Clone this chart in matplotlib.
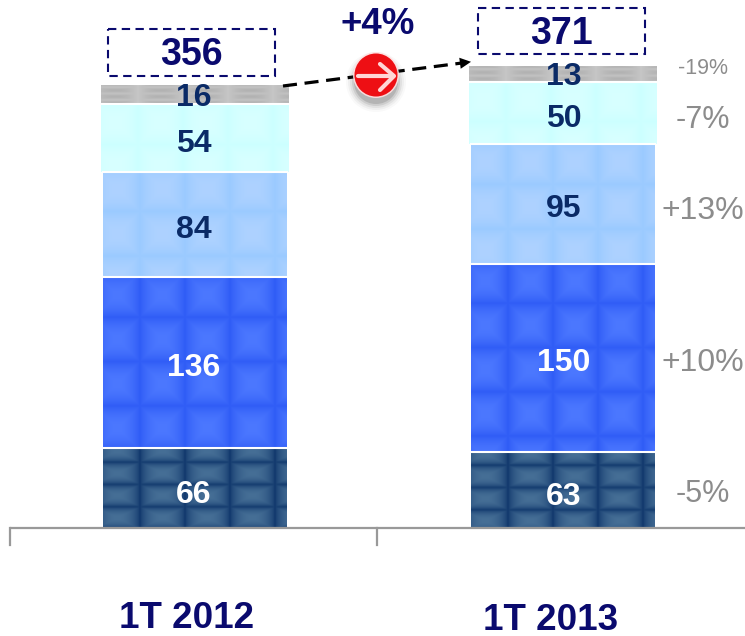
import numpy as np
import matplotlib
matplotlib.use("Agg")
import matplotlib.pyplot as plt
from matplotlib.patches import Circle, Rectangle
from matplotlib.transforms import Affine2D

# ---- data ----
periods = ["1T 2012", "1T 2013"]
seg_a = [66, 63]
seg_b = [136, 150]
seg_c = [84, 95]
seg_d = [54, 50]
seg_e = [16, 13]
totals = [356, 371]
growth = "+4%"
changes = ["-5%", "+10%", "+13%", "-7%", "-19%"]

# ---- style ----
plt.rcParams["font.family"] = ["Liberation Sans", "DejaVu Sans"]
W, H = 745, 636
AXIS_Y = 528
BASE = 531
SCALE = 1.255
NAVY = "#0a0a6e"
GREY = "#8c8c8c"
styles = [
    dict(edge="#0b3268", mid="#466f96", tw=45, th=22, oy=8, p=0.55, ws=184, txt="white", off=3),
    dict(edge="#2f5cf6", mid="#4c78ff", tw=45, th=44, oy=4, p=0.8, ws=184, txt="white", off=2),
    dict(edge="#9acaff", mid="#aed2ff", tw=45, th=44, oy=4, p=0.8, ws=184, txt="#0a2a66", off=2),
    dict(edge="#ccffff", mid="#d8ffff", tw=45, th=44, oy=4, p=0.8, ws=188, txt="#0a2a66", off=3),
    dict(edge="#c6c6c6", mid="#b2b2b2", tw=45, th=6, oy=2, p=1.0, ws=188, txt="#0a2a66", off=1),
]
series = [seg_a, seg_b, seg_c, seg_d, seg_e]
centers = [195, 563]
label_dx = [-1.5, 1]

fig = plt.figure(figsize=(W / 100, H / 100), dpi=100)
ax = fig.add_axes([0, 0, 1, 1])
ax.axis("off")
px = Affine2D().scale(1, -1).translate(0, H)  # reference pixel coordinates


def tile(x0, x1, y0, y1, st):
    xs = np.arange(int(x1 - x0)) + 0.5
    ys = np.arange(max(int(abs(y1 - y0) * SCALE), 1)) + 0.5
    X, Y = np.meshgrid(xs, ys)
    u = np.abs(np.sin(np.pi * (X + 8) / st["tw"]))
    v = np.abs(np.sin(np.pi * (Y + st["oy"]) / st["th"]))
    w = np.minimum(u, v) ** st["p"]
    e = np.array(matplotlib.colors.to_rgb(st["edge"]))
    m = np.array(matplotlib.colors.to_rgb(st["mid"]))
    return e + (m - e) * w[..., None]


bottom = np.zeros(2)
for vals, st in zip(series, styles):
    vals = np.array(vals, float)
    bars = ax.bar(centers, vals, bottom=bottom, width=st["ws"],
                  color=st["edge"], edgecolor="none", zorder=2)
    for b in bars:
        x0, x1 = b.get_x(), b.get_x() + b.get_width()
        y0, y1 = b.get_y(), b.get_y() + b.get_height()
        im = ax.imshow(tile(x0, x1, y0, y1, st), extent=[x0, x1, y0, y1],
                       aspect="auto", zorder=3, interpolation="bilinear")
        im.set_clip_path(b)
        ax.plot([x0, x1], [y1, y1], color="white", lw=1.5, zorder=4)
    for c, dx, v, bt in zip(centers, label_dx, vals, bottom):
        ax.annotate(f"{int(v)}", xy=(c + dx, bt + v / 2), xytext=(0, -st["off"] * 0.72 - 2),
                    textcoords="offset points", ha="center", va="center",
                    fontsize=23, fontweight="bold", color=st["txt"], zorder=6)
    bottom = bottom + vals

ax.set_xlim(0, W)
ax.set_ylim(-(H - BASE) / SCALE, BASE / SCALE)

# cover below the axis line, then axis with ticks
ax.add_patch(Rectangle((0, AXIS_Y), W, 8, transform=px, fc="white", ec="none", zorder=4.5))
ax.plot([10, 745], [AXIS_Y, AXIS_Y], color="#999999", lw=1.6, transform=px, zorder=5,
        solid_capstyle="butt")
for x in (10, 377):
    ax.plot([x, x], [AXIS_Y, 545], color="#999999", lw=1.6, transform=px, zorder=5)

# category labels
for c, name, y in zip((187, 551), periods, (619, 620)):
    ax.text(c, y, name, transform=px, ha="center", va="center",
            fontsize=26.5, fontweight="bold", color=NAVY)

# total boxes
for (x0, y0, x1, y1), t, (tx, ty) in zip(((108, 29, 275, 76), (478, 8, 645, 54)),
                                         totals, ((191, 55), (561, 34))):
    ax.add_patch(Rectangle((x0, y0), x1 - x0, y1 - y0, transform=px, fill=False,
                           ec=NAVY, lw=1.5, ls=(0, (4, 2.6)), zorder=6))
    ax.text(tx, ty, str(t), transform=px, ha="center", va="center",
            fontsize=27, fontweight="bold", color=NAVY, zorder=7)

# growth
ax.text(378, 24, growth, transform=px, ha="center", va="center",
        fontsize=26.5, fontweight="bold", color=NAVY)
ax.plot([283, 462], [86, 63], transform=px, color="black", lw=2.3,
        ls=(0, (4.4, 2.4)), zorder=5)
ax.annotate("", xy=(471, 61.8), xytext=(458, 63.5), xycoords=px, textcoords=px,
            arrowprops=dict(arrowstyle="-|>,head_width=0.4,head_length=0.8", color="black",
                            lw=0, shrinkA=0, shrinkB=0), zorder=6)

# red badge with soft shadow
for r, a in zip((30, 28, 26, 24, 22), (0.03, 0.05, 0.08, 0.12, 0.18)):
    ax.add_patch(Circle((376, 82), r, transform=px, fc="#444444", ec="none", alpha=a, zorder=7))
ax.add_patch(Circle((376, 75), 23, transform=px, fc="#ffe0e0", ec="none", alpha=0.9, zorder=7.5))
ax.add_patch(Circle((376, 75), 21.5, transform=px, fc="#ee0f14", ec="none", zorder=8))
ax.plot([358, 393], [76, 76], transform=px, color="#ffd6d6", lw=3.0, zorder=9,
        solid_capstyle="round")
ax.plot([380, 394, 380], [64, 76, 90], transform=px, color="#ffd6d6", lw=3.0, zorder=9,
        solid_capstyle="round", solid_joinstyle="round")

# change labels
for y, s, fs in zip((494, 363, 211, 120, 68), changes, (22, 23, 23, 22, 15.5)):
    ax.text(703, y, s, transform=px, ha="center", va="center", fontsize=fs, color=GREY)

fig.savefig("out.png", dpi=100)
